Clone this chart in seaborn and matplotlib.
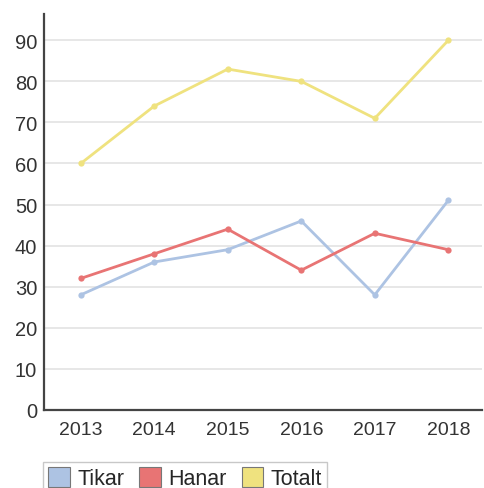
import matplotlib
matplotlib.use("Agg")
import matplotlib.pyplot as plt
import seaborn as sns
import pandas as pd
from matplotlib.patches import Patch

years = ["2013", "2014", "2015", "2016", "2017", "2018"]
tikar = [28, 36, 39, 46, 28, 51]
hanar = [32, 38, 44, 34, 43, 39]
totalt = [60, 74, 83, 80, 71, 90]
series_names = ["Tikar", "Hanar", "Totalt"]
colors = ["#adc3e3", "#e87474", "#efe27f"]
yticks = [0, 10, 20, 30, 40, 50, 60, 70, 80, 90]

sns.set_style("white")
plt.rcParams['font.family'] = ['Liberation Sans', 'DejaVu Sans']

rows = []
for name, vals in zip(series_names, [tikar, hanar, totalt]):
    for i, (y, v) in enumerate(zip(years, vals)):
        rows.append({"idx": i, "year": y, "value": v, "series": name})
df = pd.DataFrame(rows)

fig = plt.figure(figsize=(4.84, 4.89), dpi=100)
ax = fig.add_axes([0.091, 0.16, 0.905, 0.81])

sns.lineplot(data=df, x="idx", y="value", hue="series", hue_order=series_names,
             palette=colors, marker="o", markersize=4.5, markeredgewidth=0,
             linewidth=2.0, ax=ax, legend=False)

ax.set_xlim(-0.5, 5.46)
ax.set_ylim(0, 96.5)
ax.set_xticks(range(len(years)))
ax.set_xticklabels(years)
ax.set_yticks(yticks)
ax.yaxis.grid(True, color="#e3e3e3", linewidth=1.2)
ax.xaxis.grid(False)
ax.set_axisbelow(True)
for s in ["top", "right"]:
    ax.spines[s].set_visible(False)
for s in ["left", "bottom"]:
    ax.spines[s].set_color("#444444")
    ax.spines[s].set_linewidth(1.6)
ax.tick_params(axis="x", direction="in", length=5, width=1.2, color="#444444",
               labelsize=14, labelcolor="#333333", pad=8)
ax.tick_params(axis="y", length=0, labelsize=14.5, labelcolor="#333333", pad=5)
ax.set_xlabel("")
ax.set_ylabel("")

handles = [Patch(facecolor=c, edgecolor="#777777", linewidth=0.8) for c in colors]
leg = fig.legend(handles, series_names, loc="lower left",
                 bbox_to_anchor=(0.088, -0.014), ncol=3, frameon=True,
                 fancybox=False, fontsize=15.5, handlelength=1.0, handleheight=1.0,
                 handletextpad=0.35, columnspacing=0.7, borderpad=0.25,
                 borderaxespad=0)
leg.get_frame().set_edgecolor("#bbbbbb")
leg.get_frame().set_linewidth(1.0)

fig.savefig("out.png", dpi=100)
